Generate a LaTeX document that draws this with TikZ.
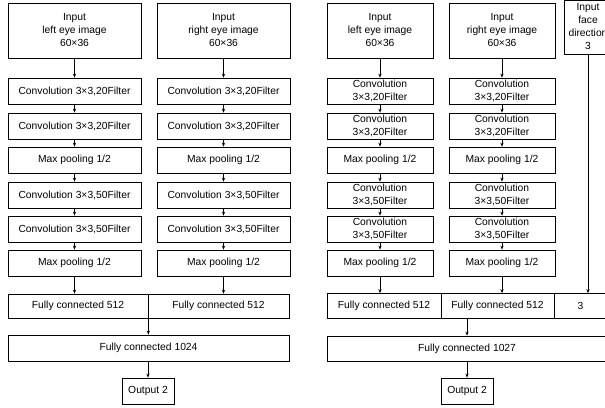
\documentclass[tikz,border=0pt]{standalone}
\usepackage{fontspec}
\setmainfont{Liberation Sans}
\usetikzlibrary{arrows.meta}
\tikzset{
  box/.style={draw, line width=0.7pt, inner sep=0pt, align=center, font=\fontsize{10.3}{13}\selectfont},
  arr/.style={line width=0.7pt, -{Stealth[length=4pt,width=3.2pt]}},
}
\begin{document}
\begin{tikzpicture}[x=1pt,y=-1pt]
\useasboundingbox (0,0) rectangle (605,407);
\clip (0,0) rectangle (605,407);
% ---------------- left diagram ----------------
\node[box, minimum width=133, minimum height=55] (inL) at (74.5,30.5) {Input\\left eye image\\60×36};
\node[box, minimum width=133, minimum height=55] (inR) at (223.5,30.5) {Input\\right eye image\\60×36};
\foreach \c/\n/\y/\t in {L/c1/91/{Convolution 3×3,20Filter}, L/c2/126/{Convolution 3×3,20Filter}, L/mp1/160/{Max pooling 1/2}, L/c3/195/{Convolution 3×3,50Filter}, L/c4/229/{Convolution 3×3,50Filter}, L/mp2/263/{Max pooling 1/2}}{
  \node[box, minimum width=133, minimum height=26] (\n\c) at (74.5,\y) {\t};
}
\foreach \c/\n/\y/\t in {R/c1/91/{Convolution 3×3,20Filter}, R/c2/126/{Convolution 3×3,20Filter}, R/mp1/160/{Max pooling 1/2}, R/c3/195/{Convolution 3×3,50Filter}, R/c4/229/{Convolution 3×3,50Filter}, R/mp2/263/{Max pooling 1/2}}{
  \node[box, minimum width=133, minimum height=26] (\n\c) at (223.5,\y) {\t};
}
\node[box, minimum width=140, minimum height=24] (fcL) at (78,306) {Fully connected 512};
\node[box, minimum width=141, minimum height=24] (fcR) at (218.5,306) {Fully connected 512};
\node[box, minimum width=281, minimum height=26] (fcA) at (148.5,348) {Fully connected 1024};
\node[box, minimum width=52, minimum height=26] (outA) at (148,391) {Output 2};
\foreach \s in {L,R}{
  \draw[arr] (in\s.south) -- (c1\s.north);
  \draw[arr] (c1\s.south) -- (c2\s.north);
  \draw[arr] (c2\s.south) -- (mp1\s.north);
  \draw[arr] (mp1\s.south) -- (c3\s.north);
  \draw[arr] (c3\s.south) -- (c4\s.north);
  \draw[arr] (c4\s.south) -- (mp2\s.north);
}
\draw[arr] (mp2L.south) -- (mp2L.south |- fcL.north);
\draw[arr] (mp2R.south) -- (mp2R.south |- fcR.north);
\draw[arr] (fcL.north east) -- (fcL.north east |- fcA.north);
\draw[arr] (fcA.south -| outA.north) -- (outA.north);
% ---------------- right diagram ----------------
\node[box, minimum width=106, minimum height=55] (inL2) at (380,30.5) {Input\\left eye image\\60×36};
\node[box, minimum width=106, minimum height=55] (inR2) at (502,30.5) {Input\\right eye image\\60×36};
\node[box, minimum width=48, minimum height=54] (face) at (588,27) {Input\\face\\direction\\3};
\foreach \x/\c in {380/L, 502/R}{
  \node[box, minimum width=106, minimum height=26] (c1\c2) at (\x,91) {Convolution\\3×3,20Filter};
  \node[box, minimum width=106, minimum height=26] (c2\c2) at (\x,126) {Convolution\\3×3,20Filter};
  \node[box, minimum width=106, minimum height=26] (mp1\c2) at (\x,160) {Max pooling 1/2};
  \node[box, minimum width=106, minimum height=26] (c3\c2) at (\x,195) {Convolution\\3×3,50Filter};
  \node[box, minimum width=106, minimum height=26] (c4\c2) at (\x,229) {Convolution\\3×3,50Filter};
  \node[box, minimum width=106, minimum height=26] (mp2\c2) at (\x,263) {Max pooling 1/2};
}
\node[box, minimum width=114, minimum height=25] (fcL2) at (384,306) {Fully connected 512};
\node[box, minimum width=113, minimum height=25] (fcR2) at (497.5,306) {Fully connected 512};
\node[box, minimum width=53, minimum height=25] (fcF2) at (580.5,306) {3};
\node[box, minimum width=280, minimum height=25] (fcB) at (467,348.5) {Fully connected 1027};
\node[box, minimum width=52, minimum height=26] (outB) at (467,391) {Output 2};
\foreach \s in {L,R}{
  \draw[arr] (in\s2.south) -- (c1\s2.north);
  \draw[arr] (c1\s2.south) -- (c2\s2.north);
  \draw[arr] (c2\s2.south) -- (mp1\s2.north);
  \draw[arr] (mp1\s2.south) -- (c3\s2.north);
  \draw[arr] (c3\s2.south) -- (c4\s2.north);
  \draw[arr] (c4\s2.south) -- (mp2\s2.north);
}
\draw[arr] (mp2L2.south) -- (mp2L2.south |- fcL2.north);
\draw[arr] (mp2R2.south) -- (mp2R2.south |- fcR2.north);
\draw[arr] (face.south) -- (face.south |- fcF2.north);
\draw[arr] (fcB.north |- fcR2.south) -- (fcB.north);
\draw[arr] (fcB.south) -- (outB.north);
\end{tikzpicture}
\end{document}
